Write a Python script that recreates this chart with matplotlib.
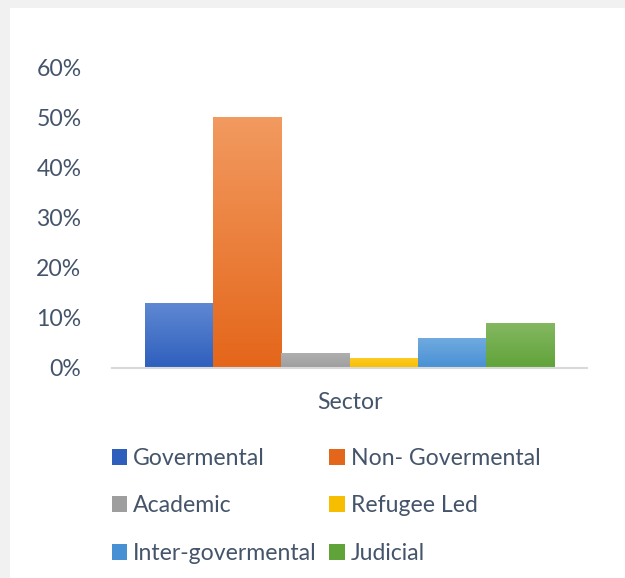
import numpy as np
import matplotlib
matplotlib.use('Agg')
import matplotlib.pyplot as plt
from matplotlib.patches import Rectangle
from matplotlib.colors import LinearSegmentedColormap
from matplotlib.ticker import PercentFormatter

plt.rcParams['font.family'] = ['Lato', 'DejaVu Sans']

# data
category = ['Sector']
sectors = ['Govermental', 'Non- Govermental', 'Academic', 'Refugee Led',
           'Inter-govermental', 'Judicial']
shares = [0.13, 0.50, 0.03, 0.02, 0.06, 0.09]
yticks = [0, 0.1, 0.2, 0.3, 0.4, 0.5, 0.6]

# colours: top of bar, bottom of bar
top_cols = ['#6089d3', '#f29a60', '#b0b0b0', '#ffcd2a', '#71abe0', '#85b862']
bot_cols = ['#2e5fbd', '#e4661a', '#9e9e9e', '#f7bd00', '#4890d4', '#60a339']
txt = '#44546a'
fs = 16.6

fig = plt.figure(figsize=(6.25, 5.78), dpi=100)
fig.patch.set_facecolor('#f1f1f1')
fig.patches.append(Rectangle((10 / 625, 0), 1, 1 - 8 / 578, transform=fig.transFigure,
                             facecolor='white', edgecolor='none', zorder=-5))

ax = fig.add_axes([112 / 625, 1 - 368 / 578, 475 / 625, 301 / 578])
ax.set_facecolor('none')

n = len(sectors)
group = 0.861
bw = group / n
xs = -group / 2 + bw / 2 + np.arange(n) * bw
bars = ax.bar(xs, shares, width=bw, color=bot_cols, zorder=2)

# vertical gradient inside each bar
grad = np.linspace(0, 1, 256).reshape(-1, 1)
for b, c0, c1 in zip(bars, bot_cols, top_cols):
    cmap = LinearSegmentedColormap.from_list('g', [c0, c1])
    x0, w, h = b.get_x(), b.get_width(), b.get_height()
    im = ax.imshow(grad, cmap=cmap, aspect='auto', origin='lower',
                   extent=[x0, x0 + w, 0, h], zorder=3)
    im.set_clip_path(b)

ax.set_xlim(-0.5, 0.5)
ax.set_ylim(0, 0.6)
ax.set_yticks(yticks)
ax.yaxis.set_major_formatter(PercentFormatter(1.0, decimals=0))
ax.set_xticks([0])
ax.set_xticklabels(category)
ax.tick_params(axis='y', length=0, pad=22, labelsize=fs, labelcolor=txt)
ax.tick_params(axis='x', length=0, pad=17.5, labelsize=fs, labelcolor=txt)
for s in ['top', 'right', 'left']:
    ax.spines[s].set_visible(False)
ax.spines['bottom'].set_color('#d9d9d9')
ax.spines['bottom'].set_linewidth(1.5)
ax.spines['bottom'].set_zorder(4)

# legend, filled row by row like the original
handles = [Rectangle((0, 0), 1, 1, facecolor=c) for c in bot_cols]
order = [0, 2, 4, 1, 3, 5]
fig.legend([handles[i] for i in order], [sectors[i] for i in order],
           ncol=2, loc='upper left', bbox_to_anchor=(91 / 625, 1 - 427 / 578),
           frameon=False, fontsize=fs, labelcolor=txt,
           handlelength=0.68, handleheight=0.68, handletextpad=0.25,
           labelspacing=1.15, columnspacing=0.55)

plt.savefig('out.png', dpi=100)
